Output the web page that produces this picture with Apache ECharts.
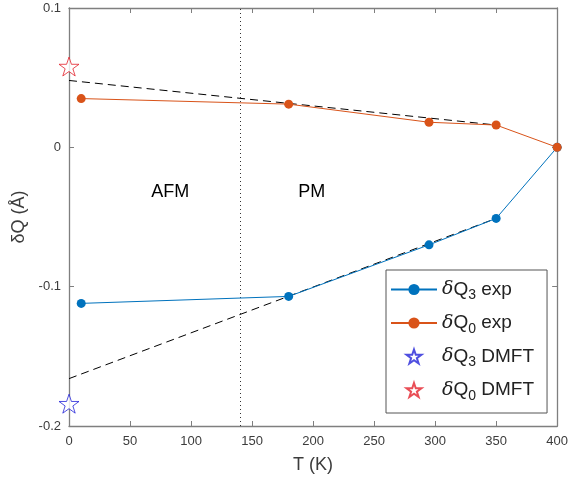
<!DOCTYPE html>
<html>
<head>
<meta charset="utf-8">
<script src="https://cdn.jsdelivr.net/npm/echarts@6/dist/echarts.min.js"></script>
<style>
  html, body { margin: 0; padding: 0; background: #fff; }
  #chart { width: 571px; height: 481px; }
</style>
</head>
<body>
<div id="chart"></div>
<script>
// Temperatures (K) of the measurements
const temps = [10, 180, 295, 350, 400];
// Distortion amplitudes from experiment (Å)
const dQ3exp = [-0.112, -0.107, -0.070, -0.051, 0.0];
const dQ0exp = [0.035, 0.031, 0.018, 0.016, 0.0];
// DMFT values at T = 0
const dQ3dmft = [[0, -0.184]];
const dQ0dmft = [[0, 0.058]];
// Linear extrapolations of the paramagnetic data to T = 0
const fitQ3 = [[0, -0.166], [350, -0.051]];
const fitQ0 = [[0, 0.048], [350, 0.016]];
// Magnetic transition temperature
const tNeel = 140;
// Phase labels [text, T, dQ]
const phaseLabels = [['AFM', 83, -0.032], ['PM', 199, -0.032]];
// Axis ticks
const xTicks = [0, 50, 100, 150, 200, 250, 300, 350, 400];
const yTicks = [-0.2, -0.1, 0, 0.1];

const blue = '#0072BD';
const orange = '#D95319';
const axisGray = '#7f7f7f';
const textGray = '#3c3c3c';
const font = 'Liberation Sans, Arial, sans-serif';
const star = 'path://M50,0 L61.8,35.3 L98.9,35.3 L68.9,57.1 L80.3,92.4 L50,70.6 L19.7,92.4 L31.1,57.1 L1.1,35.3 L38.2,35.3 Z';

const legendNames = {
  'δQ3 exp': '{d|δ}{q|Q}{s|3}{q| exp}',
  'δQ0 exp': '{d|δ}{q|Q}{s|0}{q| exp}',
  'δQ3 DMFT': '{d|δ}{q|Q}{s|3}{q| DMFT}',
  'δQ0 DMFT': '{d|δ}{q|Q}{s|0}{q| DMFT}'
};

const pair = (xs, ys) => xs.map((x, i) => [x, ys[i]]);

const chart = echarts.init(document.getElementById('chart'), null, { renderer: 'canvas' });

const baseX = {
  type: 'value', min: 0, max: 400, interval: 50,
  axisLine: { show: true, onZero: false, lineStyle: { color: axisGray, width: 1.3 } },
  axisTick: { show: true, inside: true, length: 5, lineStyle: { color: axisGray } },
  splitLine: { show: false }
};
const baseY = {
  type: 'value', min: -0.2, max: 0.1, interval: 0.1,
  axisLine: { show: true, onZero: false, lineStyle: { color: axisGray, width: 1.3 } },
  axisTick: { show: true, inside: true, length: 5, lineStyle: { color: axisGray } },
  splitLine: { show: false }
};

chart.setOption({
  animation: false,
  backgroundColor: '#fff',
  grid: { left: 69, right: 11, top: 8, bottom: 55, containLabel: false },
  xAxis: [
    Object.assign({}, baseX, {
      position: 'bottom',
      name: 'T (K)', nameLocation: 'middle', nameGap: 30,
      nameTextStyle: { fontFamily: font, fontSize: 18, color: textGray },
      axisLabel: { fontFamily: font, fontSize: 13, color: textGray, margin: 9,
        formatter: v => xTicks.includes(v) ? String(v) : '' }
    }),
    Object.assign({}, baseX, { position: 'top', axisLabel: { show: false } })
  ],
  yAxis: [
    Object.assign({}, baseY, {
      position: 'left',
      name: 'δQ (Å)', nameLocation: 'middle', nameGap: 30,
      nameTextStyle: { fontFamily: font, fontSize: 18, color: textGray },
      axisLabel: { fontFamily: font, fontSize: 13, color: textGray, margin: 8,
        formatter: v => {
          const r = Math.round(v * 10) / 10;
          return yTicks.some(t => Math.abs(t - r) < 1e-9) ? (r === 0 ? '0' : String(r)) : '';
        } }
    }),
    Object.assign({}, baseY, { position: 'right', axisLabel: { show: false } })
  ],
  legend: {
    orient: 'vertical',
    left: 386, top: 270,
    padding: [10, 13, 10, 4],
    itemGap: 11,
    itemWidth: 46, itemHeight: 14,
    backgroundColor: '#fff',
    borderColor: '#555',
    borderWidth: 1,
    data: ['δQ3 exp', 'δQ0 exp', 'δQ3 DMFT', 'δQ0 DMFT'],
    formatter: name => legendNames[name],
    textStyle: {
      fontFamily: font, fontSize: 19, color: '#222',
      rich: {
        d: { fontFamily: 'DejaVu Serif', fontStyle: 'italic', fontSize: 19, color: '#222' },
        q: { fontFamily: font, fontSize: 19, color: '#222' },
        s: { fontFamily: font, fontSize: 14, color: '#222', padding: [12, 0, 0, 0] }
      }
    }
  },
  series: [
    {
      name: 'δQ3 exp', type: 'line', data: pair(temps, dQ3exp),
      symbol: 'circle', symbolSize: 9,
      lineStyle: { color: blue, width: 1 },
      itemStyle: { color: blue }, z: 5
    },
    {
      name: 'δQ0 exp', type: 'line', data: pair(temps, dQ0exp),
      symbol: 'circle', symbolSize: 9,
      lineStyle: { color: orange, width: 1 },
      itemStyle: { color: orange }, z: 5
    },
    {
      name: 'δQ3 DMFT', type: 'scatter', data: dQ3dmft,
      symbol: star, symbolSize: 20, symbolKeepAspect: true,
      itemStyle: { color: '#fff', borderColor: '#2323d8', borderWidth: 1 }, z: 6
    },
    {
      name: 'δQ0 DMFT', type: 'scatter', data: dQ0dmft,
      symbol: star, symbolSize: 20, symbolKeepAspect: true,
      itemStyle: { color: '#fff', borderColor: '#e3222c', borderWidth: 1 }, z: 6
    },
    {
      name: 'fitQ3', type: 'line', data: fitQ3, symbol: 'none',
      lineStyle: { color: '#000', width: 1, type: [8, 5] }, z: 4
    },
    {
      name: 'fitQ0', type: 'line', data: fitQ0, symbol: 'none',
      lineStyle: { color: '#000', width: 1, type: [8, 5] }, z: 4,
      markLine: {
        silent: true, symbol: 'none', label: { show: false },
        lineStyle: { color: '#333', width: 1, type: [1, 3] },
        data: [{ xAxis: tNeel }]
      }
    },
    {
      name: 'phases', type: 'scatter', symbolSize: 0, silent: true,
      itemStyle: { opacity: 1 },
      data: phaseLabels.map(p => ({ value: [p[1], p[2]], name: p[0] })),
      label: { show: true, position: 'inside', formatter: p => p.name,
        fontFamily: font, fontSize: 18, color: '#000', opacity: 1, textBorderWidth: 0 },
      emphasis: { disabled: true }
    }
  ]
});
</script>
</body>
</html>
